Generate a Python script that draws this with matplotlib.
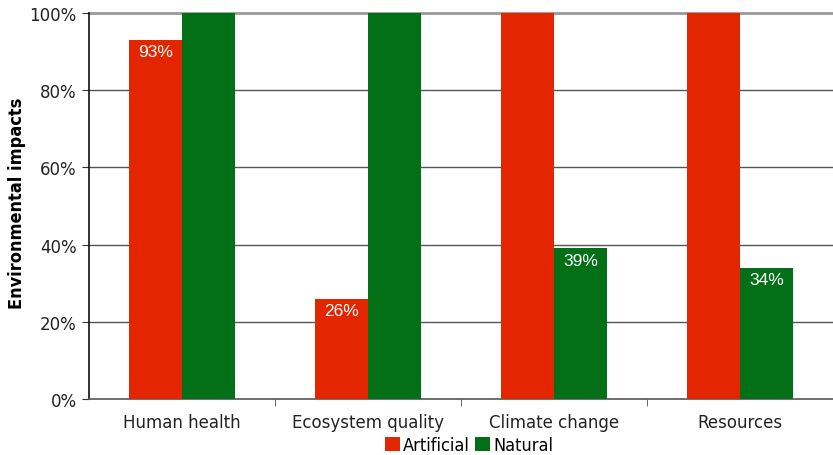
import matplotlib
matplotlib.use("Agg")
import matplotlib.pyplot as plt
from matplotlib.patches import Patch
import numpy as np

categories = ["Human health", "Ecosystem quality", "Climate change", "Resources"]
artificial = [93, 26, 100, 100]
natural = [100, 100, 39, 34]
series_names = ["Artificial", "Natural"]
colors = ["#E32600", "#036F17"]

W, H = 833, 456
fig = plt.figure(figsize=(W / 100, H / 100), dpi=100)
ax = fig.add_axes([89 / W, 1 - 400 / H, (W - 89) / W, 386 / H])

x = np.arange(len(categories))
bw = 0.285
bars_a = ax.bar(x - bw / 2, artificial, bw, color=colors[0], zorder=3)
bars_n = ax.bar(x + bw / 2, natural, bw, color=colors[1], zorder=3)

for bars, vals in ((bars_a, artificial), (bars_n, natural)):
    for b, v in zip(bars, vals):
        if v < 100:
            ax.text(b.get_x() + b.get_width() / 2, v - 3.0, f"{v}%",
                    ha="center", va="center", color="white", fontsize=12.5,
                    family="Liberation Sans", zorder=4)

ax.set_xlim(-0.5, -0.5 + (W - 89) / 187.5)
ax.set_ylim(0, 100)
ax.set_yticks(range(0, 101, 20))
ax.set_yticklabels([f"{t}%" for t in range(0, 101, 20)], fontsize=12, color="#222222")
ax.set_xticks(x)
ax.set_xticklabels(categories, fontsize=12, color="#222222")
ax.set_xticks(np.arange(0.5, 4, 1), minor=True)
ax.tick_params(axis="x", which="major", length=0, pad=10)
ax.tick_params(axis="x", which="minor", length=5, color="#555555", direction="out")
ax.tick_params(axis="y", length=5, color="#333333", direction="out", pad=4)

for yv in range(20, 100, 20):
    ax.axhline(yv, color="#555555", linewidth=1, zorder=0)
for side in ("top", "right"):
    ax.spines[side].set_visible(False)
ax.spines["left"].set_color("#111111")
ax.spines["left"].set_linewidth(1.2)
ax.spines["bottom"].set_color("#555555")
ax.spines["bottom"].set_linewidth(1.2)
ax.axhline(100, color="#999999", linewidth=2, zorder=1, clip_on=False)

ax.set_ylabel("Environmental impacts", fontsize=13, fontweight="bold",
              family="DejaVu Sans", fontstretch="condensed")
ax.yaxis.set_label_coords(-0.085, 0.51)

handles = [Patch(facecolor=c, edgecolor="none") for c in colors]
fig.legend(handles, series_names, loc="center", bbox_to_anchor=(469 / W, 1 - 446 / H),
           ncol=2, frameon=False, handlelength=0.85, handleheight=0.85,
           handletextpad=0.15, columnspacing=0.3, borderpad=0,
           prop={"family": "DejaVu Sans", "stretch": "condensed", "size": 13})

fig.savefig("out.png", dpi=100)
